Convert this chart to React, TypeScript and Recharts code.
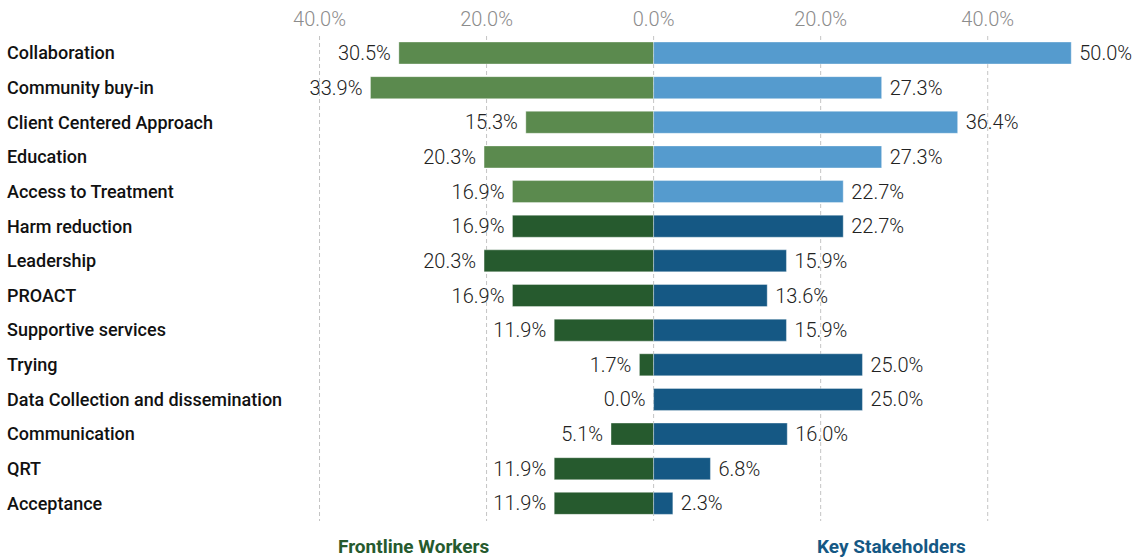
import React from 'react';
import {
    Bar,
    BarChart,
    CartesianGrid,
    Cell,
    LabelList,
    XAxis,
    YAxis,
} from 'recharts';

const categories = [
    'Collaboration',
    'Community buy-in',
    'Client Centered Approach',
    'Education',
    'Access to Treatment',
    'Harm reduction',
    'Leadership',
    'PROACT',
    'Supportive services',
    'Trying',
    'Data Collection and dissemination',
    'Communication',
    'QRT',
    'Acceptance',
];

const frontlineWorkers = [30.5, 33.9, 15.3, 20.3, 16.9, 16.9, 20.3, 16.9, 11.9, 1.7, 0.0, 5.1, 11.9, 11.9];
const keyStakeholders = [50.0, 27.3, 36.4, 27.3, 22.7, 22.7, 15.9, 13.6, 15.9, 25.0, 25.0, 16.0, 6.8, 2.3];
const xTicks = [-40, -20, 0, 20, 40];

// first five rows are highlighted with lighter shades
const highlightedRows = 5;

const data = categories.map((name, i) => ({
    name,
    frontline: -frontlineWorkers[i],
    stakeholders: keyStakeholders[i],
}));

const FONT = 'Roboto, "Noto Sans", sans-serif';
const pct = (v: any) => `${Math.abs(Number(v)).toFixed(1)}%`;

const valueTextProps = {
    fontFamily: FONT,
    fontSize: 20,
    fontWeight: 300,
    fill: '#222',
};

const CategoryTick = (props: any) => {
    const { y, payload } = props;
    return (
        <text
            x={7}
            y={y}
            dy={6}
            textAnchor="start"
            fontFamily={FONT}
            fontSize={18}
            fontWeight={500}
            fill="#111"
        >
            {payload.value}
        </text>
    );
};

// stakeholder label, right of the bar end
const RightLabel = (props: any) => {
    const { x, y, width, height, value } = props;
    return (
        <text
            x={Number(x) + Number(width) + 8}
            y={Number(y) + Number(height) / 2}
            dy={7}
            textAnchor="start"
            {...valueTextProps}
        >
            {pct(value)}
        </text>
    );
};

// frontline label, drawn from the stakeholder bar (which always starts at zero)
// so that zero-length frontline bars still get their label; the bar's own
// px-per-unit ratio maps the frontline value onto the axis
const LeftLabel = (props: any) => {
    const { x, y, width, height, value, index } = props;
    const ratio = Number(width) / keyStakeholders[index];
    const end = Number(x) + Number(value) * ratio;
    return (
        <text
            x={end - 8}
            y={Number(y) + Number(height) / 2}
            dy={7}
            textAnchor="end"
            {...valueTextProps}
        >
            {pct(value)}
        </text>
    );
};

export default function App() {
    return (
        <div style={{ position: 'relative', width: 1138, height: 557 }}>
            <style>{`body { margin: 0; }`}</style>
            <BarChart
                width={1138}
                height={557}
                data={data}
                layout="vertical"
                stackOffset="sign"
                barSize={22}
                margin={{ top: 7, right: 25, left: 0, bottom: 36 }}
            >
                <CartesianGrid
                    horizontal={false}
                    verticalValues={xTicks}
                    stroke="#c4c4c4"
                    strokeDasharray="4 3"
                />
                <XAxis
                    type="number"
                    orientation="top"
                    domain={[-50, 55]}
                    ticks={xTicks}
                    tickFormatter={pct}
                    axisLine={false}
                    tickLine={false}
                    tickMargin={4}
                    height={29}
                    tick={{ fill: '#8c8c8c', fontSize: 20, fontFamily: FONT, fontWeight: 300 }}
                />
                <YAxis
                    type="category"
                    dataKey="name"
                    width={236}
                    axisLine={false}
                    tickLine={false}
                    interval={0}
                    tick={<CategoryTick />}
                />
                <Bar
                    dataKey="frontline"
                    stackId="a"
                    stroke="#ffffff"
                    strokeOpacity={0.35}
                    isAnimationActive={false}
                >
                    {data.map((_, i) => (
                        <Cell key={i} fill={i < highlightedRows ? '#5b8a4e' : '#265a2e'} />
                    ))}
                </Bar>
                <Bar
                    dataKey="stakeholders"
                    stackId="a"
                    stroke="#ffffff"
                    strokeOpacity={0.35}
                    isAnimationActive={false}
                >
                    {data.map((_, i) => (
                        <Cell key={i} fill={i < highlightedRows ? '#559bce' : '#155884'} />
                    ))}
                    <LabelList dataKey="stakeholders" content={<RightLabel />} />
                    <LabelList dataKey="frontline" content={<LeftLabel />} />
                </Bar>
            </BarChart>
            <div
                style={{
                    position: 'absolute',
                    left: 338,
                    top: 535,
                    fontFamily: FONT,
                    fontSize: 19,
                    fontWeight: 700,
                    color: '#265a2e',
                }}
            >
                Frontline Workers
            </div>
            <div
                style={{
                    position: 'absolute',
                    left: 817,
                    top: 535,
                    fontFamily: FONT,
                    fontSize: 19,
                    fontWeight: 700,
                    color: '#155884',
                }}
            >
                Key Stakeholders
            </div>
        </div>
    );
}
